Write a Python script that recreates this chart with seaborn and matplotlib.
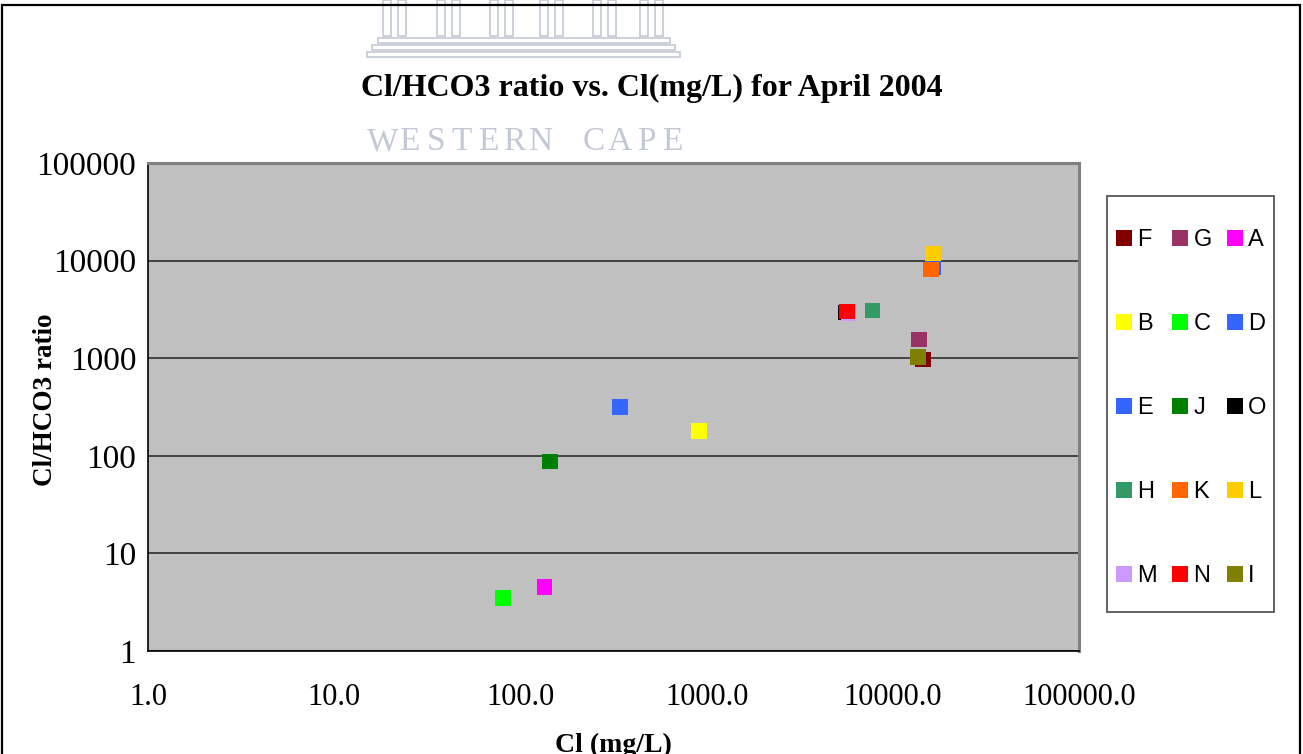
import matplotlib
matplotlib.use("Agg")
import matplotlib.pyplot as plt
from matplotlib.patches import Rectangle
from matplotlib.ticker import FixedLocator, NullLocator, FixedFormatter
import seaborn as sns
import pandas as pd

# Sampling sites, April 2004
sites = ["F", "G", "A", "B", "C", "D", "E", "J", "O", "H", "K", "L", "M", "N", "I"]
cl_mg_l = [14500, 13800, 135, 910, 80.5, 343, 16400, 144, 5570, 7780, 16000, 16400, 5780, 5680, 13650]
cl_hco3_ratio = [966, 1550, 4.5, 180, 3.5, 318, 8500, 87, 2930, 3070, 8100, 11800, 2900, 3000, 1035]
site_colors = ["#800000", "#993366", "#FF00FF", "#FFFF00", "#00FF00", "#3366FF", "#3366FF",
               "#008000", "#000000", "#339966", "#FF6600", "#FFCC00", "#CC99FF", "#FF0000",
               "#808000"]

x_ticks = [1, 10, 100, 1000, 10000, 100000]
x_tick_labels = ["1.0", "10.0", "100.0", "1000.0", "10000.0", "100000.0"]
y_ticks = [1, 10, 100, 1000, 10000, 100000]
y_tick_labels = ["1", "10", "100", "1000", "10000", "100000"]

df = pd.DataFrame({"site": sites, "cl": cl_mg_l, "ratio": cl_hco3_ratio})
palette = dict(zip(sites, site_colors))

sns.set_theme(style="white")
plt.rcParams["font.family"] = ["Liberation Serif", "DejaVu Serif"]
plt.rcParams["text.color"] = "black"
plt.rcParams["axes.labelcolor"] = "black"
plt.rcParams["xtick.color"] = "black"
plt.rcParams["ytick.color"] = "black"

W, H = 1303, 754
fig = plt.figure(figsize=(W / 100, H / 100), dpi=100)
fig.patch.set_facecolor("white")


def px(x0, y0, x1, y1):
    return [x0 / W, 1 - y1 / H, (x1 - x0) / W, (y1 - y0) / H]


# faint page watermark behind the chart heading
wm = "#c3c8d6"
for cx in [383, 398, 437, 452, 490, 505, 540, 555, 593, 608, 640, 655]:
    fig.add_artist(Rectangle((cx / W, 1 - 36 / H), 8 / W, 36 / H, transform=fig.transFigure,
                             facecolor="none", edgecolor=wm, lw=1.2, zorder=-2))
for (bx0, bx1, by) in [(378, 670, 38), (372, 675, 45), (367, 680, 52)]:
    fig.add_artist(Rectangle((bx0 / W, 1 - (by + 5) / H), (bx1 - bx0) / W, 5 / H,
                             transform=fig.transFigure, facecolor="none", edgecolor=wm,
                             lw=1.2, zorder=-2))
for i, ch in enumerate("WESTERN CAPE"):
    fig.text((383 + i * 26.3) / W, 1 - 142 / H, ch, fontsize=24, color=wm, ha="center",
             va="center", zorder=-2)

# outer chart frame
fig.add_artist(Rectangle((2 / W, -0.05), 1298 / W, 1 - 5 / H + 0.05, transform=fig.transFigure,
                         facecolor="none", edgecolor="black", lw=1.6, zorder=1))

# legend box (drawn under the axes layer so the legend entries sit on top)
fig.add_artist(Rectangle((1107 / W, 1 - 612 / H), 167 / W, 416 / H, transform=fig.transFigure,
                         facecolor="white", edgecolor="#555555", lw=1.3, zorder=-1))

ax = fig.add_axes(px(148, 163, 1079, 651))
ax.set_facecolor("#C0C0C0")
ax.set_xscale("log")
ax.set_yscale("log")
ax.set_xlim(1, 100000)
ax.set_ylim(1, 100000)

sns.scatterplot(data=df, x="cl", y="ratio", hue="site", hue_order=sites, palette=palette,
                marker="s", s=125, linewidth=0, alpha=1, ax=ax, zorder=3)

ax.xaxis.set_major_locator(FixedLocator(x_ticks))
ax.xaxis.set_major_formatter(FixedFormatter(x_tick_labels))
ax.xaxis.set_minor_locator(NullLocator())
ax.yaxis.set_major_locator(FixedLocator(y_ticks))
ax.yaxis.set_major_formatter(FixedFormatter(y_tick_labels))
ax.yaxis.set_minor_locator(NullLocator())
ax.tick_params(axis="both", which="major", direction="out", length=7, width=1.2,
               color="black", labelcolor="black")
ax.tick_params(axis="x", pad=16, labelsize=22)
ax.tick_params(axis="y", pad=1.5, labelsize=24)
ax.grid(axis="y", which="major", color="#222222", lw=1.1)
ax.grid(axis="x", visible=False)
ax.set_axisbelow(True)
for side in ["top", "right"]:
    ax.spines[side].set_color("#808080")
    ax.spines[side].set_linewidth(2.2)
for side in ["left", "bottom"]:
    ax.spines[side].set_color("black")
    ax.spines[side].set_linewidth(1.2)

ax.set_xlabel("Cl (mg/L)", fontsize=20, fontweight="bold", labelpad=15, color="black")
ax.set_ylabel("Cl/HCO3 ratio", fontsize=19.5, fontweight="bold", va="center", color="black")
ax.yaxis.set_label_coords((46 - 148) / 931, (651 - 400) / 488)
fig.text(0.5, 1 - 88 / H, "Cl/HCO3 ratio vs. Cl(mg/L) for April 2004", fontsize=23,
         fontweight="bold", ha="center", va="center", color="black")

# legend laid out row by row: F G A / B C D / ...
handles, labels = ax.get_legend_handles_labels()
lookup = dict(zip(labels, handles))
order = [sites[r * 3 + c] for c in range(3) for r in range(5)]
leg = ax.legend([lookup[k] for k in order], order, ncol=3, loc="upper left",
                bbox_to_anchor=(1116 / W, 1 - 229 / H), bbox_transform=fig.transFigure,
                frameon=False, prop={"family": "Liberation Sans", "size": 17},
                handlelength=0.66, handletextpad=0.25, columnspacing=0.63,
                labelspacing=2.63, borderpad=0, borderaxespad=0, labelcolor="black")
leg.set_zorder(5)

fig.savefig("out.png", dpi=100)
